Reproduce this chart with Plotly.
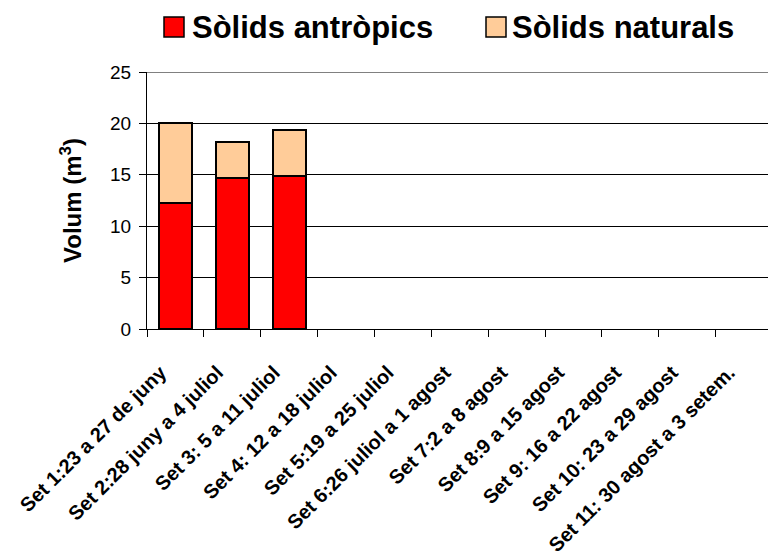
import plotly.graph_objects as go

categories = [
    "Set 1:23 a 27 de juny",
    "Set 2:28 juny a 4 juliol",
    "Set 3: 5 a 11 juliol",
    "Set 4: 12 a 18 juliol",
    "Set 5:19 a 25 juliol",
    "Set 6:26 juliol a 1 agost",
    "Set 7:2 a 8 agost",
    "Set 8:9 a 15 agost",
    "Set 9: 16 a 22 agost",
    "Set 10: 23 a 29 agost",
    "Set 11: 30 agost a 3 setem.",
]
antropics = [12.3, 14.7, 14.9, None, None, None, None, None, None, None, None]
naturals = [7.7, 3.5, 4.5, None, None, None, None, None, None, None, None]
series_names = ["Sòlids antròpics", "Sòlids naturals"]
series_colors = ["#FF0000", "#FFCC99"]
y_ticks = [0, 5, 10, 15, 20, 25]

W, H = 768, 555
ML, MR, MT, MB = 147, 0, 72, 226
PW, PH = W - ML - MR, H - MT - MB

def px2x(px):
    return (px - ML) / PW

def px2y(py):
    return (H - MB - py) / PH

FONT = "Liberation Sans, Arial, sans-serif"

fig = go.Figure()
for name, vals, col in zip(series_names, [antropics, naturals], series_colors):
    fig.add_trace(go.Bar(
        x=categories, y=vals, name=name,
        marker=dict(color=col, line=dict(color="black", width=2)),
        showlegend=False,
    ))

shapes = []
annotations = []
# manual legend
legend_items = [(164, 193), (486, 513)]
for (sq_x, tx), name, col in zip(legend_items, series_names, series_colors):
    shapes.append(dict(type="rect", xref="paper", yref="paper",
                       x0=px2x(sq_x), x1=px2x(sq_x + 20), y0=px2y(37), y1=px2y(17),
                       fillcolor=col, line=dict(color="black", width=1.5)))
    annotations.append(dict(text="<b>%s</b>" % name, xref="paper", yref="paper",
                            x=px2x(tx - 3), y=px2y(28), xanchor="left", yanchor="middle",
                            showarrow=False, font=dict(family=FONT, size=31, color="black")))

# top border of plot area
shapes.append(dict(type="line", xref="paper", yref="y", x0=0, x1=1, y0=25, y1=25,
                   line=dict(color="#808080", width=2)))

fig.update_layout(
    width=W, height=H,
    margin=dict(l=ML, r=MR, t=MT, b=MB, autoexpand=False),
    barmode="stack", bargap=0.42,
    plot_bgcolor="white", paper_bgcolor="white",
    font=dict(family=FONT, color="black"),
    shapes=shapes, annotations=annotations,
    xaxis=dict(
        type="category", categoryorder="array", categoryarray=categories,
        range=[-0.5, 10.42], tickangle=-45, tickson="boundaries",
        ticks="outside", ticklen=7, tickcolor="black", tickwidth=1,
        showline=True, linecolor="black", linewidth=1,
        showgrid=False, automargin=False,
        ticklabelstandoff=23, ticklabelshift=-15,
        tickfont=dict(family=FONT, size=20, color="black"),
        tickprefix="<b>", ticksuffix="</b>",
    ),
    yaxis=dict(
        range=[0, 25], tickvals=y_ticks, ticks="outside", ticklen=7,
        tickcolor="black", showline=True, linecolor="black", linewidth=1,
        showgrid=True, gridcolor="black", gridwidth=1, zeroline=False,
        automargin=False, ticklabelstandoff=4,
        tickfont=dict(family=FONT, size=19, color="black"),
        title=dict(text="<b>Volum (m<sup>3</sup>)</b>", standoff=21,
                   font=dict(family=FONT, size=24, color="black")),
    ),
)

fig.write_html("out.html", config={"displayModeBar": False},
               post_script="document.body.style.margin='0px';")
